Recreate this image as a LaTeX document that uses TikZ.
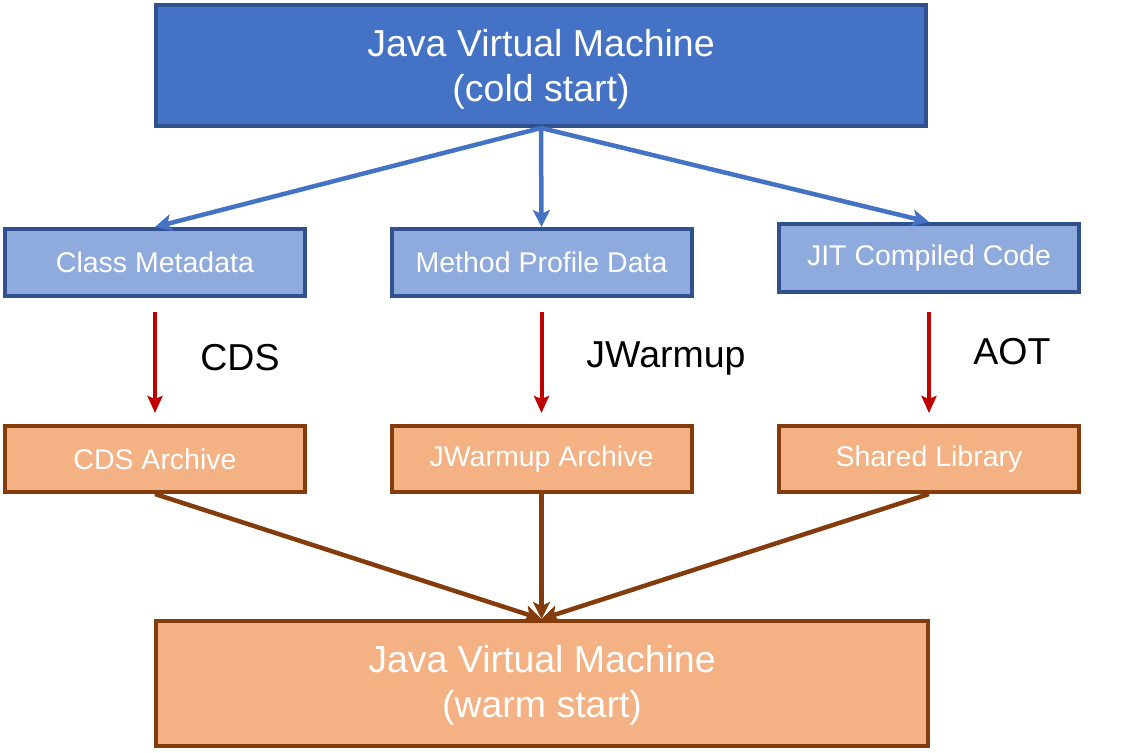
\documentclass[tikz,border=0pt]{standalone}
\usepackage{fontspec}
\setmainfont{Liberation Sans}
\usetikzlibrary{arrows.meta}
\definecolor{jvmblue}{HTML}{4472C4}
\definecolor{jvmborder}{HTML}{2F528F}
\definecolor{lightblue}{HTML}{8FAADC}
\definecolor{orangefill}{HTML}{F4B183}
\definecolor{brownline}{HTML}{843C0C}
\definecolor{redarrow}{HTML}{C00000}
\tikzset{
  bigbox/.style={draw=#1, line width=4pt, minimum width=770pt, minimum height=121pt, inner sep=0pt, text=white, align=center, font=\fontsize{37.5}{45}\selectfont},
  smallbox/.style={draw=#1, line width=4pt, minimum width=300pt, minimum height=67pt, inner sep=0pt, text=white, font=\fontsize{28.5}{32}\selectfont},
  lbl/.style={font=\fontsize{37.5}{42}\selectfont, text=black},
  blueArr/.style={draw=jvmblue, line width=4.5pt, -{Stealth[length=17pt,width=17pt,inset=4pt]}},
  redArr/.style={draw=redarrow, line width=4pt, -{Stealth[length=17pt,width=15pt,inset=3pt]}},
  brownArr/.style={draw=brownline, line width=4.5pt, -{Stealth[length=17pt,width=17pt,inset=4pt]}}
}
\begin{document}
\begin{tikzpicture}[x=1pt,y=-1pt]
\useasboundingbox (0,0) rectangle (1147,752);
\node[bigbox=jvmborder, fill=jvmblue] (top) at (541,65.5) {};
\node[text=white, align=center, font=\fontsize{37.5}{45}\selectfont] (toptext) at (541,69) {Java Virtual Machine\\(cold start)};
\node[smallbox=jvmborder, fill=lightblue] (cm) at (155,262.5) {Class Metadata};
\node[smallbox=jvmborder, fill=lightblue] (mp) at (541.5,262.5) {Method Profile Data};
\node[smallbox=jvmborder, fill=lightblue, minimum height=68pt] (jit) at (929,258) {JIT Compiled Code};
\node[smallbox=brownline, fill=orangefill, minimum height=66pt] (cds) at (155,459) {CDS Archive};
\node[smallbox=brownline, fill=orangefill, minimum height=66pt] (jw) at (541.5,459) {JWarmup Archive};
\node[smallbox=brownline, fill=orangefill, minimum height=66pt] (sl) at (929,459) {Shared Library};
\node[bigbox=brownline, fill=orangefill, minimum width=772pt, minimum height=125pt] (bot) at (542,683.5) {};
\node[text=white, align=center, font=\fontsize{37.5}{45}\selectfont] (bottext) at (542,685.5) {Java Virtual Machine\\(warm start)};
\coordinate (topS) at (541,128);
\draw[blueArr] (topS) -- (cm.north);
\draw[blueArr] (topS) -- (mp.north);
\draw[blueArr] (topS) -- (jit.north);
\coordinate (r1s) at (155,312); \coordinate (r1e) at (155,413);
\coordinate (r2s) at (541.5,312); \coordinate (r2e) at (541.5,413);
\coordinate (r3s) at (929,312); \coordinate (r3e) at (929,413);
\draw[redArr] (r1s) -- (r1e);
\draw[redArr] (r2s) -- (r2e);
\draw[redArr] (r3s) -- (r3e);
\node[lbl] (lcds) at (240,358) {CDS};
\node[lbl] (ljw) at (666,358) {JWarmup};
\node[lbl] (laot) at (1012,352) {AOT};
\coordinate (botN) at (541.5,619);
\draw[brownArr] (cds.south) -- (botN);
\draw[brownArr] (jw.south) -- (botN);
\draw[brownArr] (sl.south) -- (botN);
\end{tikzpicture}
\end{document}
